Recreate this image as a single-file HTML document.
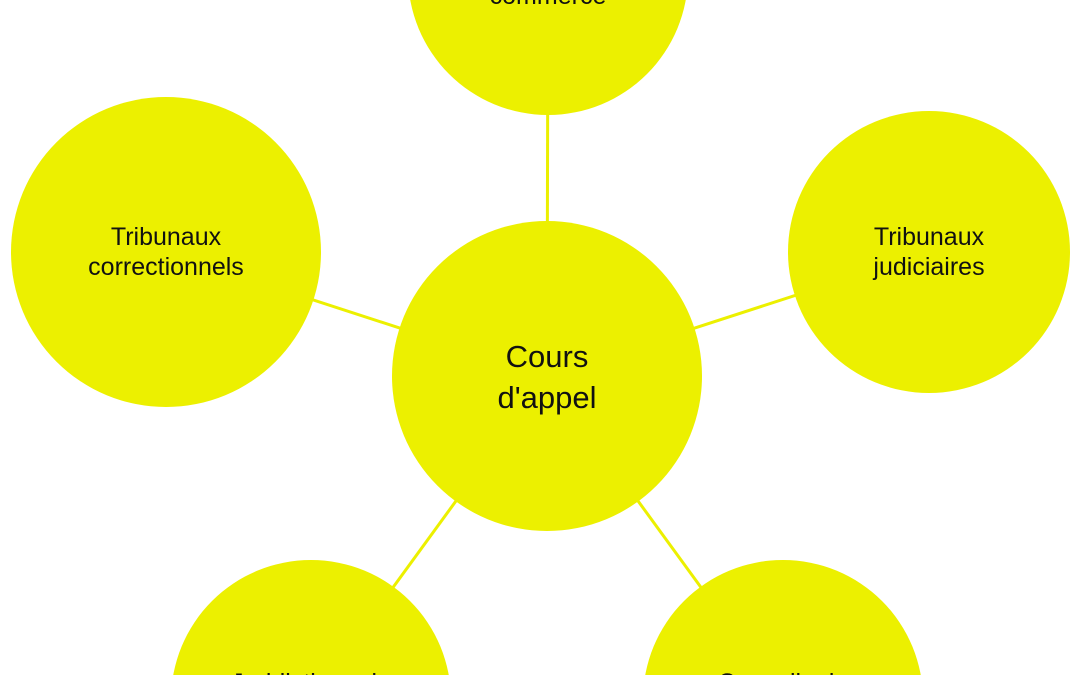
<!DOCTYPE html>
<html><head><meta charset="utf-8"><style>
html,body{margin:0;padding:0;background:#fff;width:1080px;height:675px;overflow:hidden;}
svg{display:block}
text{font-family:"Liberation Sans","DejaVu Sans",sans-serif;fill:#111;text-anchor:middle}
</style></head><body>
<svg width="1080" height="675" viewBox="0 0 1080 675" xmlns="http://www.w3.org/2000/svg" overflow="hidden">
<defs><clipPath id="c"><rect x="0" y="0" width="1080" height="675"/></clipPath></defs>
<g clip-path="url(#c)">
<g stroke="#ecf000" stroke-width="3">
<line x1="547" y1="376" x2="548" y2="-25"/>
<line x1="547" y1="376" x2="166" y2="252"/>
<line x1="547" y1="376" x2="929" y2="252"/>
<line x1="547" y1="376" x2="311" y2="700"/>
<line x1="547" y1="376" x2="783" y2="700"/>
</g>
<g fill="#ecf000">
<circle cx="548" cy="-25" r="140"/>
<circle cx="166" cy="252" r="155"/>
<circle cx="929" cy="252" r="141"/>
<circle cx="311" cy="700" r="140"/>
<circle cx="783" cy="700" r="140"/>
<circle cx="547" cy="376" r="155"/>
</g>
<text x="548" y="-26" font-size="25">Tribunaux de</text>
<text x="548" y="4" font-size="25">commerce</text>
<text x="166" y="245" font-size="25">Tribunaux</text>
<text x="166" y="275" font-size="25">correctionnels</text>
<text x="929" y="245" font-size="25">Tribunaux</text>
<text x="929" y="275" font-size="25">judiciaires</text>
<text x="547" y="367" font-size="31">Cours</text>
<text x="547" y="408" font-size="31">d'appel</text>
<text x="311" y="691" font-size="25">Juridictions de</text>
<text x="783" y="691" font-size="25">Conseils de</text>
</g>
</svg>
</body></html>
